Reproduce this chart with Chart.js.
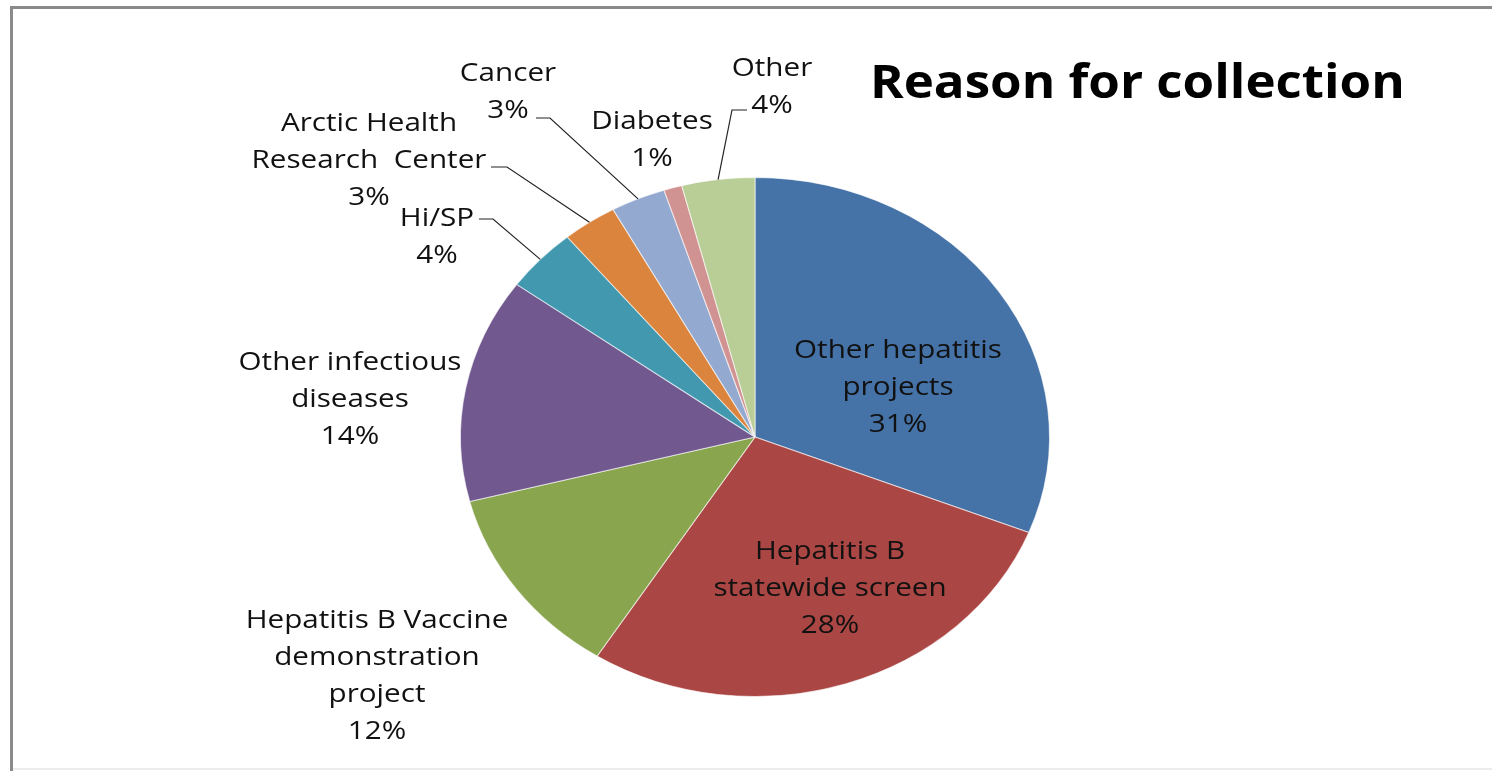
<!DOCTYPE html>
<html>
<head>
<meta charset="utf-8">
<script src="https://cdn.jsdelivr.net/npm/chart.js@4.4.1/dist/chart.umd.min.js"></script>
<style>
  html, body { margin: 0; padding: 0; background: #fff; overflow: hidden; }
  #box { position: relative; width: 1492px; height: 771px; }
</style>
</head>
<body>
<div id="box"><canvas id="reasonChart"></canvas></div>
<script>
// data
const categories = [
  ['Other hepatitis', 'projects'],
  ['Hepatitis B', 'statewide screen'],
  ['Hepatitis B Vaccine', 'demonstration', 'project'],
  ['Other infectious', 'diseases'],
  ['Hi/SP'],
  ['Arctic Health', 'Research  Center'],
  ['Cancer'],
  ['Diabetes'],
  ['Other']
];
const shares = [31, 28, 12, 14, 4, 3, 3, 1, 4];
const sliceColours = ['#4572A7', '#AA4643', '#89A54E', '#71588F', '#4198AF', '#DB843D', '#93A9CF', '#D19392', '#B9CD96'];

// where each label block sits (centre x, first line y) and its leader elbow
const labelAt = [
  [898, 351], [830, 552], [377, 621], [350, 363], [437, 219],
  [369, 124], [508, 74], [652, 122], [772, 69]
];
const leaders = {
  4: [[479, 219], [493, 219]],
  5: [[491, 167], [507, 167]],
  6: [[536, 118], [550, 118]],
  8: [[747, 110], [732, 110]]
};
const stretchX = 1.135;   // the pie in the picture is a little wider than tall
const textStretch = 1.14; // and so is the text
const lineGap = 37;
const labelFont = '26px "Open Sans", sans-serif';

// frame + oval pie
const ovalPie = {
  id: 'ovalPie',
  beforeDraw(chart) {
    const ctx = chart.ctx;
    ctx.save();
    ctx.strokeStyle = '#8a8a8a';
    ctx.lineWidth = 3;
    ctx.beginPath();
    ctx.moveTo(11.5, 771);
    ctx.lineTo(11.5, 7.5);
    ctx.lineTo(1492, 7.5);
    ctx.stroke();
    ctx.strokeStyle = '#ececec';
    ctx.lineWidth = 2;
    ctx.beginPath();
    ctx.moveTo(13, 769);
    ctx.lineTo(1492, 769);
    ctx.stroke();
    ctx.restore();
  },
  beforeDatasetsDraw(chart) {
    const ctx = chart.ctx;
    const a = chart.getDatasetMeta(0).data[0];
    ctx.save();
    ctx.translate(a.x, a.y);
    ctx.scale(stretchX, 1);
    ctx.translate(-a.x, -a.y);
  },
  afterDatasetsDraw(chart) {
    chart.ctx.restore();
  }
};

function wideText(ctx, t, x, y, sx) {
  ctx.save();
  ctx.translate(x, y);
  ctx.scale(sx || textStretch, 1);
  ctx.fillText(t, 0, 0);
  ctx.restore();
}

// labels with leader lines, Excel style
const sliceLabels = {
  id: 'sliceLabels',
  afterDraw(chart) {
    const ctx = chart.ctx;
    const arcs = chart.getDatasetMeta(0).data;
    ctx.save();

    // title
    ctx.fillStyle = '#000';
    ctx.font = 'bold 46px "Open Sans", sans-serif';
    ctx.textAlign = 'left';
    ctx.textBaseline = 'alphabetic';
    wideText(ctx, 'Reason for collection', 870, 98, 1.11);

    ctx.font = labelFont;
    ctx.textAlign = 'center';
    ctx.textBaseline = 'middle';
    arcs.forEach((arc, i) => {
      const lines = categories[i].concat(shares[i] + '%');
      const [cx, cy] = labelAt[i];
      ctx.fillStyle = '#111';
      lines.forEach((t, k) => wideText(ctx, t, cx, cy + k * lineGap));

      if (leaders[i]) {
        const mid = (arc.startAngle + arc.endAngle) / 2;
        const r = arc.outerRadius;
        const ex = arc.x + Math.cos(mid) * r * stretchX;
        const ey = arc.y + Math.sin(mid) * r;
        const pts = leaders[i];
        ctx.strokeStyle = '#222';
        ctx.lineWidth = 1.2;
        ctx.beginPath();
        ctx.moveTo(pts[0][0], pts[0][1]);
        ctx.lineTo(pts[1][0], pts[1][1]);
        ctx.lineTo(ex, ey);
        ctx.stroke();
      }
    });
    ctx.restore();
  }
};

new Chart(document.getElementById('reasonChart').getContext('2d'), {
  type: 'pie',
  data: {
    labels: categories,
    datasets: [{
      data: shares,
      backgroundColor: sliceColours,
      borderColor: 'rgba(255,255,255,0.6)',
      borderWidth: 1
    }]
  },
  options: {
    responsive: true,
    maintainAspectRatio: false,
    animation: false,
    layout: { padding: { left: 495, right: 477, top: 177, bottom: 74 } },
    plugins: {
      legend: { display: false },
      tooltip: { enabled: false },
      title: { display: false }
    }
  },
  plugins: [ovalPie, sliceLabels]
});
</script>
</body>
</html>
